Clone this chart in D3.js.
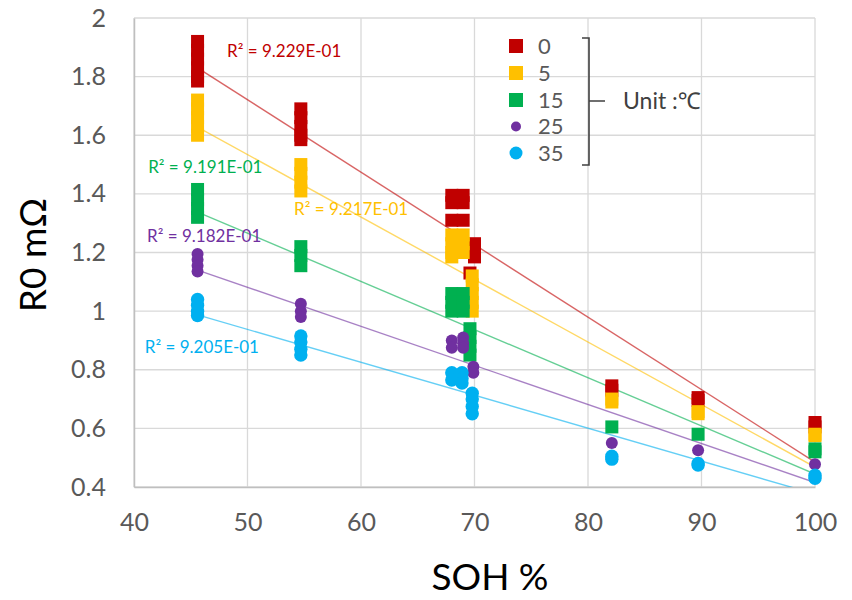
<!DOCTYPE html>
<html><head><meta charset="utf-8">
<script src="https://cdn.jsdelivr.net/npm/d3@7"></script>
<style>
body{margin:0;background:#fff;}
svg{display:block;font-family:Lato,"Noto Sans",sans-serif;}
</style></head>
<body><svg id="c" width="852" height="600"></svg>
<script>
// ---- data ----
const categories = ["0", "5", "15", "25", "35"];
const xTicks = [40, 50, 60, 70, 80, 90, 100];
const yTicks = [0.4, 0.6, 0.8, 1, 1.2, 1.4, 1.6, 1.8, 2];

const t0 = [[45.6,1.92],[45.6,1.89],[45.6,1.86],[45.6,1.83],[45.6,1.80],[45.6,1.785],
  [54.7,1.69],[54.7,1.66],[54.7,1.63],[54.7,1.60],[54.7,1.585],
  [68.0,1.395],[68.0,1.37],[68.0,1.31],[69.0,1.395],[69.0,1.37],[69.0,1.31],
  [69.6,1.13],[70.0,1.23],[70.0,1.20],[70.0,1.185],
  [82.1,0.745],[82.1,0.73],[89.7,0.705],[89.7,0.695],[100,0.62],[100,0.605]];
const t5 = [[45.6,1.72],[45.6,1.69],[45.6,1.66],[45.6,1.63],[45.6,1.60],
  [54.7,1.50],[54.7,1.47],[54.7,1.44],[54.7,1.41],
  [68.0,1.26],[68.0,1.23],[68.0,1.20],[68.0,1.185],[69.0,1.26],[69.0,1.23],[69.0,1.20],
  [69.8,1.12],[69.8,1.09],[69.8,1.06],[69.8,1.03],[69.8,1.00],
  [82.1,0.70],[82.1,0.69],[89.7,0.657],[89.7,0.65],[100,0.58],[100,0.575]];
const t15 = [[45.6,1.415],[45.6,1.38],[45.6,1.35],[45.6,1.32],
  [54.7,1.22],[54.7,1.19],[54.7,1.155],
  [68.0,1.06],[68.0,1.03],[68.0,1.00],[69.0,1.06],[69.0,1.03],[69.0,1.00],
  [69.6,0.94],[69.6,0.91],[69.6,0.88],[69.6,0.85],
  [82.1,0.605],[89.7,0.58],[100,0.53],[100,0.52]];
const t25 = [[45.6,1.195],[45.6,1.175],[45.6,1.155],[45.6,1.135],
  [54.7,1.025],[54.7,1.00],[54.7,0.98],
  [68.0,0.90],[68.0,0.875],[69.0,0.91],[69.0,0.89],[69.0,0.875],
  [69.9,0.81],[69.9,0.79],
  [82.1,0.55],[89.7,0.525],[100,0.478]];
const t35 = [[45.6,1.04],[45.6,1.02],[45.6,1.00],[45.6,0.985],
  [54.7,0.915],[54.7,0.895],[54.7,0.87],[54.7,0.85],
  [68.0,0.79],[68.0,0.765],[68.9,0.79],[68.9,0.77],[68.9,0.755],
  [69.8,0.72],[69.8,0.70],[69.8,0.675],[69.8,0.65],
  [82.1,0.505],[82.1,0.495],[89.7,0.48],[89.7,0.475],[100,0.44],[100,0.43]];

const trendX = [45.6, 100];
const trendStart = [1.83, 1.628, 1.338, 1.14, 0.987];
const trendEnd = [0.485, 0.468, 0.444, 0.415, 0.376];
const r2Labels = ["R² = 9.229E-01", "R² = 9.217E-01", "R² = 9.191E-01", "R² = 9.182E-01", "R² = 9.205E-01"];

// ---- styles ----
const colors = ["#C00000", "#FFC000", "#00B050", "#7030A0", "#00B0F0"];
const shapes = ["square", "square", "square", "circle", "circle"];
const series = [t0, t5, t15, t25, t35];

const svg = d3.select("#c");
const L = 134, R = 815, T = 18, B = 487;
const x = d3.scaleLinear().domain([40, 100]).range([L, R]);
const y = d3.scaleLinear().domain([0.4, 2]).range([B, T]);

// gridlines
const grid = svg.append("g");
grid.selectAll("line.h").data(yTicks).join("line")
  .attr("x1", L).attr("x2", R).attr("y1", d => y(d)).attr("y2", d => y(d))
  .attr("stroke", "#D9D9D9").attr("stroke-width", 1.3);
grid.selectAll("line.v").data(xTicks).join("line").attr("class","v")
  .attr("y1", T).attr("y2", B).attr("x1", d => x(d)).attr("x2", d => x(d))
  .attr("stroke", "#D9D9D9").attr("stroke-width", 1.3);

// axes
const xAxis = svg.append("g").attr("transform", `translate(0,${B})`)
  .call(d3.axisBottom(x).tickValues(xTicks).tickSize(0).tickPadding(26).tickFormat(d3.format("d")));
const yAxis = svg.append("g").attr("transform", `translate(${L},0)`)
  .call(d3.axisLeft(y).tickValues(yTicks).tickSize(0).tickPadding(28).tickFormat(d => String(d)));
[xAxis, yAxis].forEach(a => {
  a.select(".domain").attr("stroke", "#BFBFBF").attr("stroke-width", 1.5);
  a.selectAll("text").attr("fill", "#595959").style("font-family", "Lato, sans-serif").style("font-size", "25px");
});

// clip
svg.append("clipPath").attr("id", "pc").append("rect")
  .attr("x", L).attr("y", T).attr("width", R - L).attr("height", B - T);

// trendlines
const tl = svg.append("g").attr("clip-path", "url(#pc)");
categories.forEach((c, i) => {
  tl.append("line")
    .attr("x1", x(trendX[0])).attr("y1", y(trendStart[i]))
    .attr("x2", x(trendX[1])).attr("y2", y(trendEnd[i]))
    .attr("stroke", colors[i]).attr("stroke-width", 1.4).attr("opacity", 0.6);
});

// markers
const mk = svg.append("g");
series.forEach((s, i) => {
  const g = mk.append("g").attr("fill", colors[i]);
  if (shapes[i] === "square") {
    g.selectAll("rect").data(s).join("rect")
      .attr("x", d => x(d[0]) - 6.5).attr("y", d => y(d[1]) - 6.5)
      .attr("width", 13).attr("height", 13);
  } else {
    g.selectAll("circle").data(s).join("circle")
      .attr("cx", d => x(d[0])).attr("cy", d => y(d[1]))
      .attr("r", i === 3 ? 6 : 6.7);
  }
});

// R² labels (position in data space)
const labelPos = [[48.2, 1.867], [54.1, 1.328], [41.25, 1.471], [41.15, 1.236], [40.95, 0.857]];
svg.append("g").selectAll("text").data(r2Labels).join("text")
  .attr("x", (d, i) => x(labelPos[i][0])).attr("y", (d, i) => y(labelPos[i][1]))
  .attr("fill", (d, i) => colors[i]).style("font-size", "17px").text(d => d);

// legend
const lg = svg.append("g");
const legY = [46, 73, 100, 126.5, 153];
categories.forEach((c, i) => {
  if (shapes[i] === "square") {
    lg.append("rect").attr("x", 516 - 7).attr("y", legY[i] - 7).attr("width", 14).attr("height", 14).attr("fill", colors[i]);
  } else {
    lg.append("circle").attr("cx", 516).attr("cy", legY[i]).attr("r", i === 3 ? 5 : 6.5).attr("fill", colors[i]);
  }
  lg.append("text").attr("x", 538).attr("y", legY[i]).attr("dy", "0.36em")
    .attr("fill", "#595959").style("font-size", "22px").text(c);
});
lg.append("path").attr("d", "M582,38 H589 V165 H582 M589,101 H605")
  .attr("fill", "none").attr("stroke", "#404040").attr("stroke-width", 1.6);
lg.append("text").attr("x", 623).attr("y", 101).attr("dy", "0.36em")
  .attr("fill", "#404040").style("font-size", "23px").text("Unit :℃");

// axis titles
svg.append("text").attr("x", 490).attr("y", 590).attr("text-anchor", "middle")
  .attr("fill", "#000").style("font-size", "37px").text("SOH %");
svg.append("text").attr("transform", "translate(46,255) rotate(-90)").attr("text-anchor", "middle")
  .attr("fill", "#000").style("font-size", "37px").text("R0 mΩ");
</script></body></html>
